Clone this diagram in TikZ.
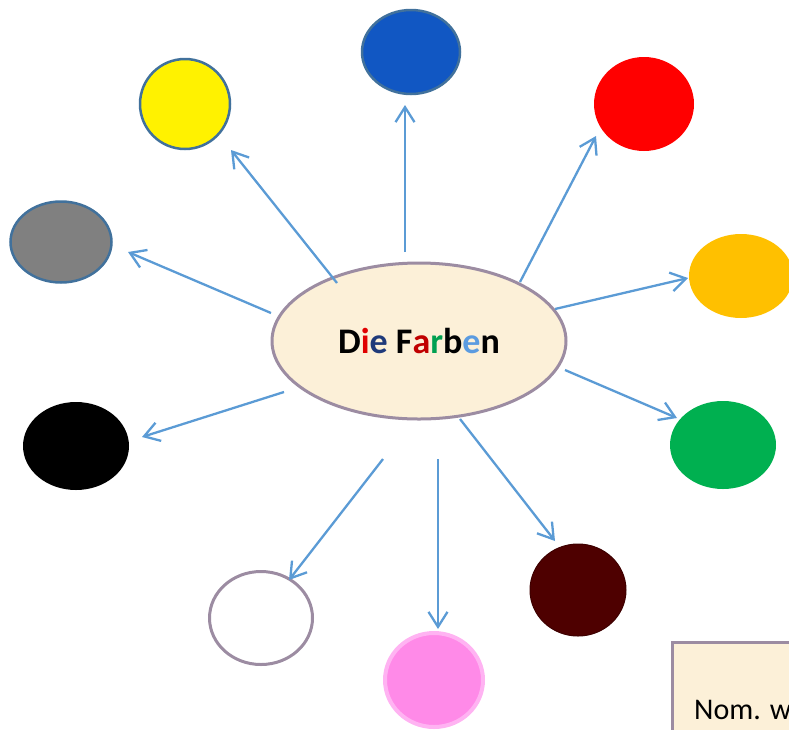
\documentclass[tikz,border=0pt]{standalone}
\usepackage{fontspec}
\setmainfont{Carlito}
\usetikzlibrary{shapes.geometric,arrows.meta}
\definecolor{arrowblue}{HTML}{5B9BD5}
\definecolor{edgeblue}{HTML}{41719C}
\definecolor{edgegray}{HTML}{9C8CA2}
\definecolor{cream}{HTML}{FCF0D8}
\definecolor{fblue}{HTML}{1157C3}
\definecolor{forange}{HTML}{FFC000}
\definecolor{fgreen}{HTML}{00B050}
\definecolor{fbrown}{HTML}{4E0000}
\definecolor{fpink}{HTML}{FF8AE8}
\definecolor{epink}{HTML}{FFB3F2}
\definecolor{tred}{HTML}{E00000}
\definecolor{tnavy}{HTML}{1F3A7A}
\definecolor{tdred}{HTML}{C00000}
\definecolor{tgreen}{HTML}{00A050}
\definecolor{tlblue}{HTML}{5B9BE0}
\tikzset{
  blob/.style={ellipse, inner sep=0pt, line width=2.5pt},
  conn/.style={draw=arrowblue, line width=2.3pt, -{Straight Barb[length=15pt,width=19pt,line width=2.3pt]}},
}
\begin{document}
\begin{tikzpicture}[x=1pt,y=-1pt]
\useasboundingbox (0,0) rectangle (789,729);
\clip (0,0) rectangle (789,729);
% centre
\node[blob, draw=edgegray, line width=3pt, fill=cream, minimum width=294pt, minimum height=156pt] (center) at (419,341)
  {\fontsize{36}{40}\selectfont\bfseries D\textcolor{tred}{i}\textcolor{tnavy}{e} F\textcolor{tdred}{a}\textcolor{tgreen}{r}b\textcolor{tlblue}{e}n};
% colour blobs
\node[blob, draw=edgeblue, fill=fblue, minimum width=98pt, minimum height=84pt] (blue) at (411,52) {};
\node[blob, draw=edgeblue, fill=yellow, minimum width=90pt, minimum height=90pt] (yellow) at (185,104) {};
\node[blob, draw=edgeblue, fill={rgb,255:red,128;green,128;blue,128}, minimum width=101pt, minimum height=81pt] (gray) at (61,242) {};
\node[blob, fill=red, minimum width=100pt, minimum height=94pt] (red) at (644,104) {};
\node[blob, fill=forange, minimum width=104pt, minimum height=84pt] (orange) at (741,276) {};
\node[blob, fill=fgreen, minimum width=106pt, minimum height=88pt] (green) at (723,445) {};
\node[blob, fill=black, minimum width=106pt, minimum height=88pt] (black) at (76,446) {};
\node[blob, draw=edgegray, line width=3pt, fill=white, minimum width=103pt, minimum height=93pt] (white) at (261,618) {};
\node[blob, draw=epink, line width=4pt, fill=fpink, minimum width=98pt, minimum height=94pt] (pink) at (434,680) {};
\node[blob, draw=fbrown!80!black, line width=1pt, fill=fbrown, minimum width=96pt, minimum height=92pt] (brown) at (578,590) {};
% connector ends
\coordinate (sB) at (405,252); \coordinate (eB) at (405,105);
\coordinate (sY) at (337,283); \coordinate (eY) at (231,150);
\coordinate (sG) at (271,313); \coordinate (eG) at (128,252);
\coordinate (sR) at (520,282); \coordinate (eR) at (596,136);
\coordinate (sO) at (555,309); \coordinate (eO) at (688,278);
\coordinate (sGr) at (565,370); \coordinate (eGr) at (677,418);
\coordinate (sK) at (284,392); \coordinate (eK) at (142,437);
\coordinate (sW) at (383,459); \coordinate (eW) at (289,580);
\coordinate (sP) at (438,459); \coordinate (eP) at (438,629);
\coordinate (sBr) at (460,419); \coordinate (eBr) at (555,541);
\draw[conn] (sB) -- (eB);
\draw[conn] (sY) -- (eY);
\draw[conn] (sG) -- (eG);
\draw[conn] (sR) -- (eR);
\draw[conn] (sO) -- (eO);
\draw[conn] (sGr) -- (eGr);
\draw[conn] (sK) -- (eK);
\draw[conn] (sW) -- (eW);
\draw[conn] (sP) -- (eP);
\draw[conn] (sBr) -- (eBr);
% box bottom right
\node[draw=edgegray, line width=3pt, fill=cream, anchor=north west, minimum width=160pt, minimum height=120pt, inner sep=0pt] (box) at (671,641) {};
\node[anchor=base west, inner sep=0pt, font=\fontsize{30}{34}\selectfont] (boxtext) at (694,719) {Nom. w};
\end{tikzpicture}
\end{document}
